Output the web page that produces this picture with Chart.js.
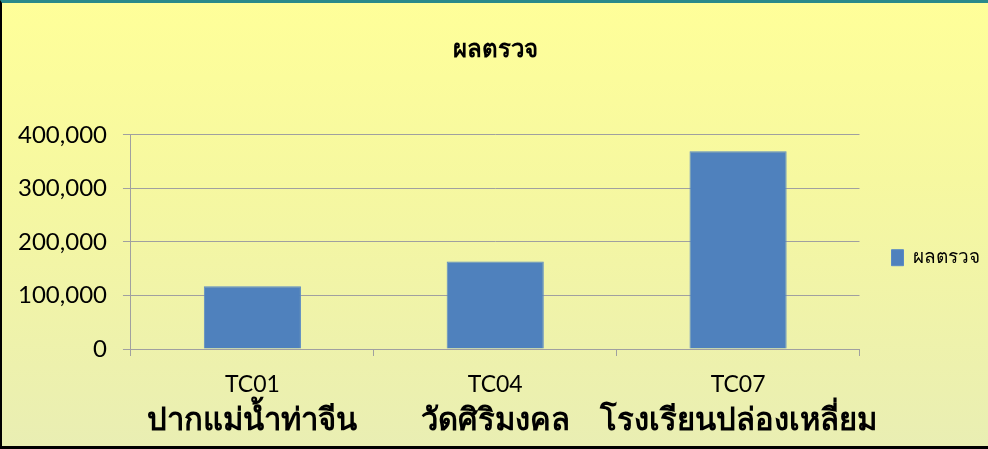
<!DOCTYPE html>
<html lang="th">
<head>
    <meta charset="UTF-8">
    <title>ผลตรวจ</title>
    <script src="https://cdn.jsdelivr.net/npm/chart.js"></script>
    <style>
        html, body {
            margin: 0;
            padding: 0;
            background: #fff;
        }
        #wrap {
            position: relative;
            width: 988px;
            height: 449px;
            background: linear-gradient(to bottom, #ffff99 0%, #f6f8a0 40%, #e9eeb3 100%);
        }
        #frame {
            position: absolute;
            left: 0; top: 0; right: 0; bottom: 0;
            border-left: 2px solid #000;
            border-top: 3px solid #2a8a8a;
            border-bottom: 3px solid #000;
            pointer-events: none;
        }
        canvas { position: absolute; left: 0; top: 0; }
    </style>
</head>
<body>
    <div id="wrap">
        <canvas id="chart" width="988" height="449"></canvas>
        <div id="frame"></div>
    </div>
    <script>
        const codes = ['TC01', 'TC04', 'TC07'];
        const places = ['ปากแม่น้ำท่าจีน', 'วัดศิริมงคล', 'โรงเรียนปล่องเหลี่ยม'];
        const results = [117000, 163500, 369500];
        const yTicks = [0, 100000, 200000, 300000, 400000];

        const thaiFont = '"Noto Sans", "DejaVu Sans", sans-serif';

        new Chart(document.getElementById('chart'), {
            type: 'bar',
            data: {
                labels: codes,
                datasets: [{
                    label: 'ผลตรวจ',
                    data: results,
                    backgroundColor: '#4f81bd',
                    borderColor: '#5a8ac4',
                    borderWidth: 1,
                    categoryPercentage: 0.4,
                    barPercentage: 1
                }]
            },
            options: {
                responsive: false,
                animation: false,
                // small negative right padding lets the wide legend gap fit
                layout: { padding: { left: 2, right: -2, top: 0, bottom: 14 } },
                plugins: {
                    title: {
                        display: true,
                        fullSize: false,   // center over the plot, not the canvas
                        text: 'ผลตรวจ',
                        color: '#000',
                        font: { family: thaiFont, size: 24, weight: 'bold' },
                        padding: { top: 36, bottom: 70 }
                    },
                    legend: {
                        position: 'right',
                        // blank legend title only pushes the entry down a bit
                        title: { display: true, text: '\u00a0', padding: { top: 66, bottom: 0 }, font: { size: 12 } },
                        labels: {
                            color: '#000',
                            boxWidth: 12,
                            boxHeight: 16,
                            padding: 32,
                            font: { family: thaiFont, size: 19 }
                        }
                    },
                    tooltip: { enabled: false }
                },
                scales: {
                    x: {
                        position: 'bottom',
                        afterFit: (s) => { s.height = 46; },
                        grid: {
                            drawOnChartArea: false,
                            drawTicks: true,
                            tickLength: 7,
                            color: '#a0a0a0'
                        },
                        border: { color: '#a0a0a0' },
                        ticks: {
                            color: '#000',
                            padding: 15,
                            maxRotation: 0,
                            font: { family: 'Lato, sans-serif', size: 23 }
                        }
                    },
                    x2: {
                        type: 'category',
                        labels: places,
                        position: 'bottom',
                        afterFit: (s) => { s.height = 40; },
                        grid: { display: false, drawTicks: false },
                        border: { display: false },
                        ticks: {
                            color: '#000',
                            padding: 8,
                            autoSkip: false,
                            maxRotation: 0,
                            minRotation: 0,
                            font: { family: thaiFont, size: 31, weight: 'bold' }
                        }
                    },
                    y: {
                        min: 0,
                        max: 400000,
                        afterBuildTicks: (axis) => {
                            axis.ticks = yTicks.map(v => ({ value: v }));
                        },
                        grid: {
                            color: '#a0a0a0',
                            tickLength: 8
                        },
                        border: { color: '#a0a0a0' },
                        ticks: {
                            color: '#000',
                            padding: 16,
                            font: { family: 'Lato, sans-serif', size: 24 },
                            callback: (v) => v.toLocaleString('en-US')
                        }
                    }
                }
            }
        });
    </script>
</body>
</html>
